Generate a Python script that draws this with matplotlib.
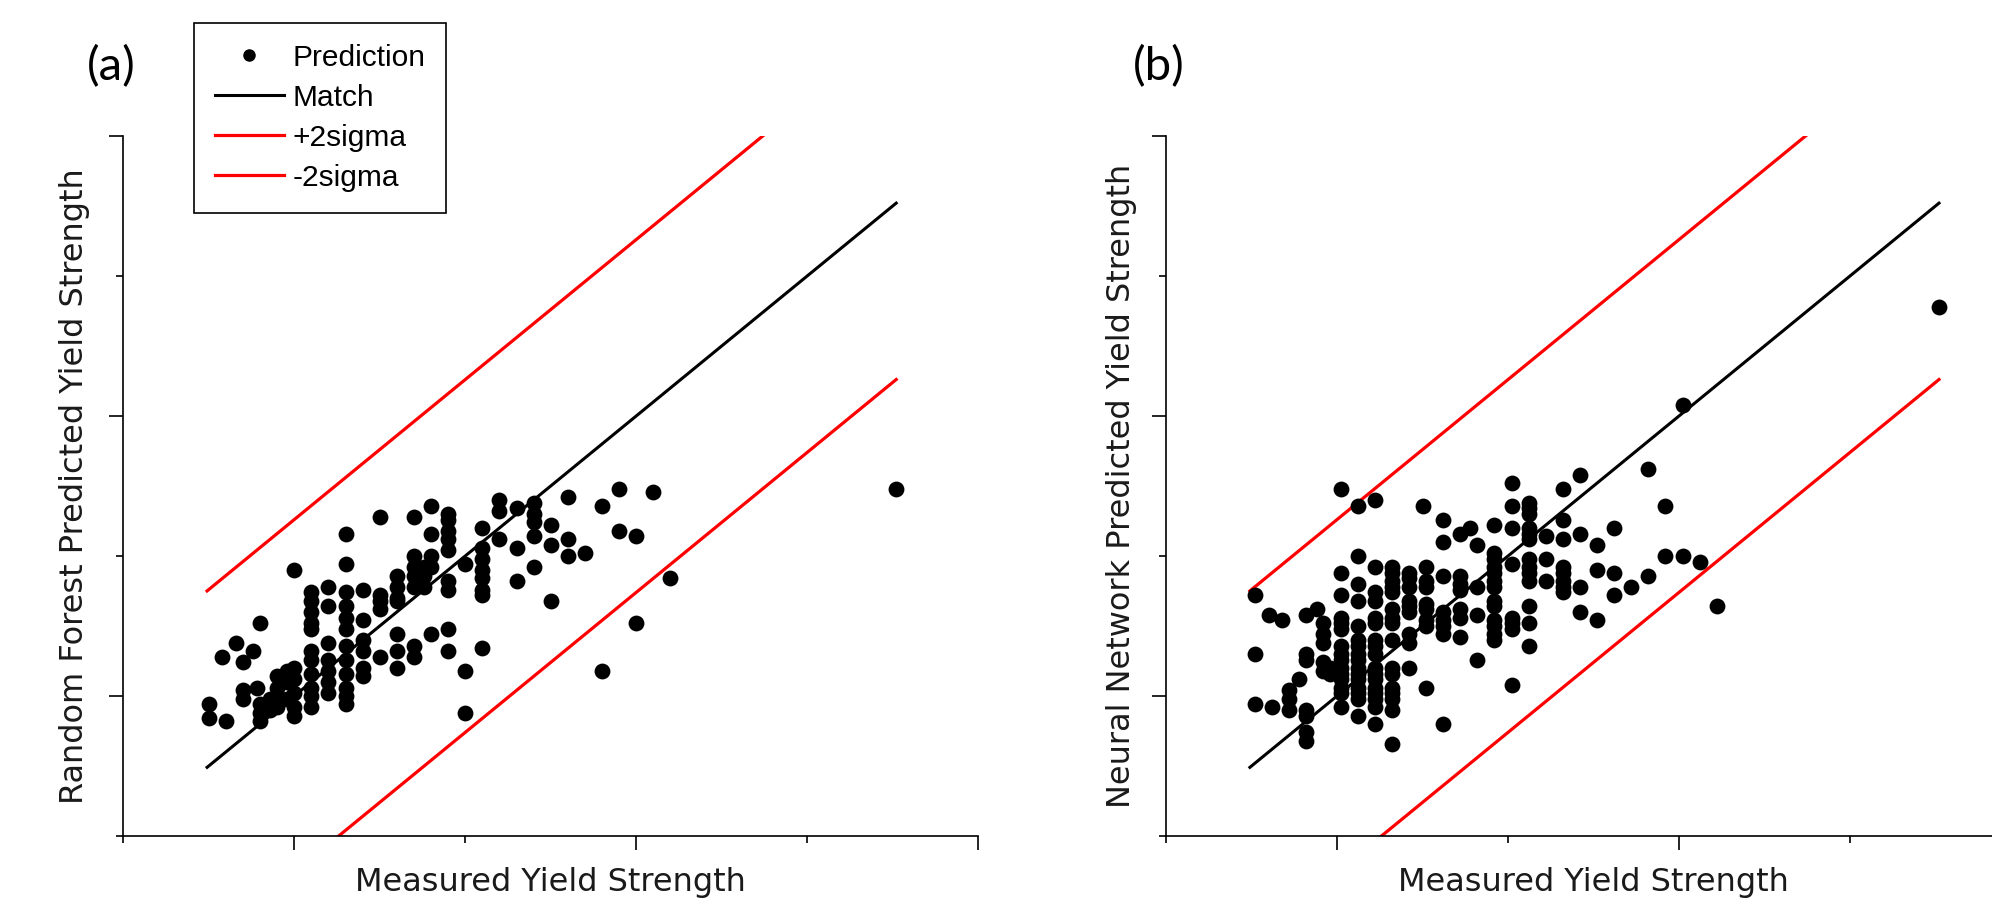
import matplotlib
matplotlib.use("Agg")
import matplotlib.pyplot as plt
from matplotlib.lines import Line2D
from matplotlib.ticker import MultipleLocator

# ---------------------------------------------
# Data (arbitrary units)
# ---------------------------------------------
# (a) Random Forest
rf_measured = [
    175, 175, 180, 179, 183, 185, 185, 185, 188, 189,
    190, 190, 190, 190, 193, 193, 195, 195, 195, 195,
    198, 198, 198, 200, 200, 200, 200, 200, 200,
    205, 205, 205, 205, 205, 205, 205, 205, 205, 205, 205,
    210, 210, 210, 210, 210, 210, 210,
    215, 215, 215, 215, 215, 215, 215, 215, 215, 215, 215, 215,
    220, 220, 220, 220, 220, 220,
    225, 225, 225, 225, 225,
    230, 230, 230, 230, 230, 230, 230,
    235, 235, 235, 235, 235, 235, 235,
    238, 238, 238,
    240, 240, 240, 240, 240,
    245, 245, 245, 245, 245, 245, 245, 245, 245,
    250, 250, 250,
    255, 255, 255, 255, 255, 255, 255, 255,
    260, 260, 260,
    265, 265, 265,
    270, 270, 270, 270, 270,
    275, 275, 275,
    280, 280, 280,
    285, 290, 290, 295, 295, 300, 300, 305, 310, 376,
]
rf_predicted = [
    197, 192, 191, 214, 219, 212, 202, 199, 216, 203,
    226, 197, 194, 191, 195, 199, 207, 203, 200, 196,
    209, 205, 199, 210, 206, 201, 196, 193, 245,
    237, 234, 230, 226, 224, 216, 213, 208, 203, 200, 196,
    239, 232, 219, 213, 209, 205, 201,
    258, 247, 237, 232, 228, 224, 218, 213, 208, 203, 200, 197,
    238, 227, 220, 216, 210, 207,
    264, 236, 234, 231, 214,
    243, 239, 235, 234, 222, 216, 210,
    264, 250, 246, 243, 239, 218, 214,
    246, 243, 239,
    268, 258, 250, 246, 222,
    265, 263, 259, 256, 252, 241, 238, 224, 216,
    247, 209, 194,
    260, 253, 249, 245, 242, 238, 236, 217,
    270, 266, 256,
    267, 253, 241,
    269, 265, 262, 257, 246,
    261, 254, 234,
    271, 256, 250,
    251, 268, 209, 274, 259, 257, 226, 273, 242, 274,
]

# (b) Neural Network
nn_measured = [
    176, 176, 176, 180, 181, 184, 186, 186, 186, 189,
    191, 191, 191, 191, 191, 191, 191,
    194, 196, 196, 196, 196, 196, 198, 198,
    201, 201, 201, 201, 201, 201, 201, 201, 201, 201, 201, 201, 201, 201, 201,
    206, 206, 206, 206, 206, 206, 206, 206, 206, 206, 206, 206, 206, 206, 206, 206,
    211, 211, 211, 211, 211, 211, 211, 211, 211, 211, 211, 211, 211, 211, 211, 211, 211,
    216, 216, 216, 216, 216, 216, 216, 216, 216, 216, 216, 216, 216, 216, 216, 216,
    221, 221, 221, 221, 221, 221, 221, 221, 221,
    225,
    226, 226, 226, 226, 226, 226, 226, 226,
    231, 231, 231, 231, 231, 231, 231, 231,
    236, 236, 236, 236, 236, 236, 236,
    239,
    241, 241, 241, 241,
    246, 246, 246, 246, 246, 246, 246, 246, 246, 246, 246, 246, 246,
    251, 251, 251, 251, 251, 251, 251, 251,
    256, 256, 256, 256, 256, 256, 256, 256, 256, 256, 256, 256, 256,
    261, 261, 261,
    266, 266, 266, 266, 266, 266, 266, 266,
    271, 271, 271, 271,
    276, 276, 276,
    281, 281, 281,
    286, 291, 291, 296, 296, 301, 301, 306, 311, 376,
]
nn_predicted = [
    236, 215, 197, 229, 196, 227, 202, 199, 195, 206,
    229, 215, 213, 195, 193, 187, 184,
    231, 226, 222, 219, 212, 209, 210, 208,
    274, 244, 236, 228, 226, 224, 218, 215, 213, 210, 208, 206, 203, 201, 196,
    268, 250, 240, 234, 225, 220, 218, 215, 213, 210, 208, 206, 203, 201, 199, 193,
    270, 246, 237, 234, 228, 226, 220, 218, 215, 210, 208, 206, 203, 201, 199, 196, 190,
    246, 244, 241, 239, 237, 231, 228, 226, 220, 210, 208, 203, 201, 199, 195, 183,
    244, 242, 239, 234, 232, 230, 222, 219, 210,
    268,
    246, 241, 239, 233, 231, 227, 225, 203,
    263, 255, 243, 230, 227, 225, 222, 190,
    258, 243, 240, 238, 231, 228, 221,
    260,
    254, 239, 229, 213,
    261, 251, 249, 246, 244, 241, 239, 234, 232, 227, 225, 222, 220,
    276, 268, 260, 247, 228, 226, 224, 204,
    269, 267, 265, 260, 258, 256, 249, 246, 244, 241, 232, 226, 218,
    257, 249, 241,
    274, 263, 256, 246, 244, 241, 239, 237,
    279, 258, 239, 230,
    254, 245, 227,
    260, 244, 236,
    239, 281, 243, 268, 250, 250, 304, 248, 232, 339,
]

# reference lines: perfect match and +/- 2 sigma band
line_x = [174.5, 376.0]
match_y = [174.5, 376.0]
plus2_y = [237.5, 439.0]
minus2_y = [111.5, 313.0]

panel_tags = ["(a)", "(b)"]
y_labels = ["Random Forest Predicted Yield Strength",
            "Neural Network Predicted Yield Strength"]
x_label = "Measured Yield Strength"
legend_labels = ["Prediction", "Match", "+2sigma", "-2sigma"]

# ---------------------------------------------
# Figure
# ---------------------------------------------
fig = plt.figure(figsize=(19.92, 9.11), dpi=100)
ax_a = fig.add_axes([0.0619, 0.0824, 0.4292, 0.7684])
ax_b = fig.add_axes([0.5854, 0.0824, 0.4292, 0.7684])


def draw_panel(ax, xs, ys, ylabel, ylab_x):
    ax.scatter(xs, ys, s=130, c="black", marker="o", linewidths=0, zorder=3)
    ax.plot(line_x, match_y, color="black", lw=2.2, zorder=2)
    ax.plot(line_x, plus2_y, color="red", lw=2.3, zorder=2)
    ax.plot(line_x, minus2_y, color="red", lw=2.3, zorder=2)

    ax.set_xlim(150, 400)
    ax.set_ylim(150, 400)
    for side in ("top", "right"):
        ax.spines[side].set_visible(False)
    for side in ("left", "bottom"):
        ax.spines[side].set_linewidth(1.2)

    for axis in (ax.xaxis, ax.yaxis):
        axis.set_major_locator(MultipleLocator(100))
        axis.set_minor_locator(MultipleLocator(50))
    ax.tick_params(which="major", direction="out", length=10, width=1.2,
                   labelbottom=False, labelleft=False)
    ax.tick_params(which="minor", direction="out", length=5, width=1.2)

    ax.set_xlabel(x_label, fontsize=23, family="DejaVu Sans", color="#1a1a1a")
    ax.xaxis.set_label_coords(0.5, -0.044)
    ax.set_ylabel(ylabel, fontsize=23, family="DejaVu Sans", color="#1a1a1a")
    ax.yaxis.set_label_coords(ylab_x, 0.5)


draw_panel(ax_a, rf_measured, rf_predicted, y_labels[0], -0.0388)
draw_panel(ax_b, nn_measured, nn_predicted, y_labels[1], -0.034)

fig.text(111.7 / 1992, 1 - 67 / 911, panel_tags[0], fontsize=34, family="Lato",
         ha="center", va="center")
fig.text(1159 / 1992, 1 - 67 / 911, panel_tags[1], fontsize=34, family="Lato",
         ha="center", va="center")

handles = [
    Line2D([], [], marker="o", color="black", linestyle="None", markersize=8),
    Line2D([], [], color="black", lw=2.2),
    Line2D([], [], color="red", lw=2.3),
    Line2D([], [], color="red", lw=2.3),
]
leg = fig.legend(handles, legend_labels, loc="upper left",
                 bbox_to_anchor=(194 / 1992, 1 - 23 / 911), borderaxespad=0,
                 frameon=True, fancybox=False, edgecolor="black", framealpha=1,
                 prop={"family": "Liberation Sans", "size": 21.5},
                 handlelength=2.3, handletextpad=0.3, labelspacing=0.4,
                 borderpad=0.7)
leg.get_frame().set_linewidth(1.2)

fig.savefig("out.png", dpi=100)
